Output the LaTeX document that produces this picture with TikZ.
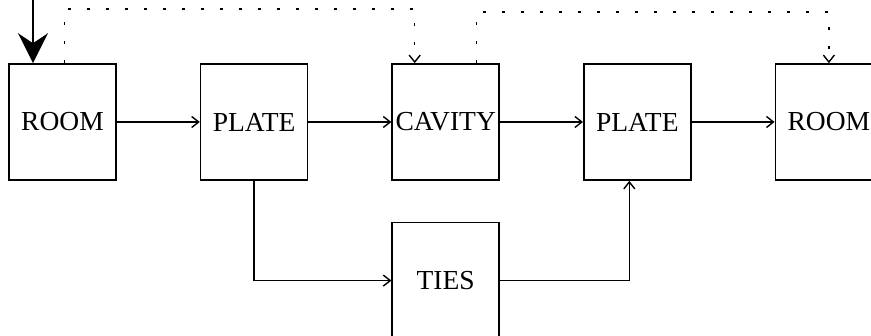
\documentclass[tikz,border=0pt]{standalone}
\usepackage{fontspec}
\setmainfont{Liberation Serif}
\usetikzlibrary{arrows.meta,positioning}

\begin{document}
\begin{tikzpicture}[x=1pt, y=-1pt, >={Straight Barb[length=7pt,width=11pt]},
    box/.style={rectangle, draw, line width=1.6pt, minimum width=107pt, minimum height=116pt, inner sep=0pt, font=\fontsize{27.5}{30}\selectfont},
    flow/.style={->, line width=1.4pt},
    fb/.style={->, line width=1.4pt, dash pattern=on 3.5pt off 15.5pt},
    node distance=83pt]
    \clip (0,0) rectangle (871,336);
    \node [box] (r1) at (62.5,122) {ROOM};
    \node [box, right=of r1] (p1) {PLATE};
    \node [box, right=of p1] (cav) {CAVITY};
    \node [box, right=of cav] (p2) {PLATE};
    \node [box, right=of p2] (r2) {ROOM};
    \node [box, below=41pt of cav] (ties) {TIES};
    % main flow
    \draw [flow] (r1) -- (p1);
    \draw [flow] (p1) -- (cav);
    \draw [flow] (cav) -- (p2);
    \draw [flow] (p2) -- (r2);
    \draw [flow] (p1.south) |- (ties.west);
    \draw [flow] (ties.east) -| ([xshift=-8pt]p2.south);
    % input and feedback
    \coordinate (src) at (33,0);
    \draw [line width=1.4pt, -{Stealth[length=30pt,width=30pt,inset=10pt]}] (src) -- (src |- r1.north);
    \draw [fb] ([xshift=2pt]r1.north) -- ++(0,-54) -| ([xshift=-31pt]cav.north);
    \draw [fb] ([xshift=31pt]cav.north) -- ++(0,-51) -| (r2.north);
\end{tikzpicture}
\end{document}
